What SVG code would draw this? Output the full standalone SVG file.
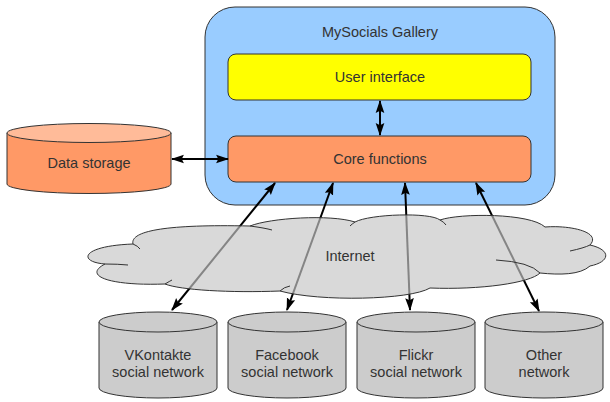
<svg xmlns="http://www.w3.org/2000/svg" width="610" height="402" viewBox="0 0 610 402">
<style>
text{font-family:"Liberation Sans",Arial,sans-serif;font-size:14.5px;fill:#333;text-anchor:middle}
.box{stroke:#333;stroke-width:1}
.conn{stroke:#000;stroke-width:2;fill:none;marker-start:url(#ah);marker-end:url(#ah)}
.cyl{fill:#cccccc;stroke:#333;stroke-width:1}
</style>
<defs>
<marker id="ah" viewBox="0 0 12 10" refX="11" refY="5" markerWidth="6.5" markerHeight="5.5" markerUnits="strokeWidth" orient="auto-start-reverse">
<path d="M0,1 L12,5 L0,9 L2,5 Z" fill="#000"/>
</marker>
</defs>
<g id="gallery">
<rect class="box" x="205" y="7" width="350" height="198" rx="30" fill="#99ccff"/>
<text x="380" y="37">MySocials Gallery</text>
</g>
<g id="ui">
<rect class="box" x="228" y="54" width="303" height="46" rx="8" fill="#ffff00"/>
<text x="380" y="82">User interface</text>
</g>
<g id="core">
<rect class="box" x="228" y="136" width="303" height="46" rx="8" fill="#ff9966"/>
<text x="380" y="164">Core functions</text>
</g>
<g id="storage">
<path class="box" d="M7,133 V184 A82,9.5 0 0 0 171,184 V133" fill="#ff9966"/>
<ellipse class="box" cx="89" cy="133" rx="82" ry="9.5" fill="#ffbb99"/>
<text x="89" y="168">Data storage</text>
</g>
<g id="connectors">
<line class="conn" x1="380" y1="101" x2="380" y2="135"/>
<line class="conn" x1="172" y1="159" x2="228" y2="159"/>
<line class="conn" x1="275" y1="183" x2="172" y2="310"/>
<line class="conn" x1="333" y1="183" x2="287" y2="310"/>
<line class="conn" x1="405" y1="183" x2="410" y2="310"/>
<line class="conn" x1="476" y1="183" x2="539" y2="311"/>
</g>
<g id="internet">
<path d="M165,284 C110,286 82,276 105,264 C78,262 80,246 133,244 C130,232 160,224 250,226 C270,218 330,214 355,222 C370,214 430,212 440,220 C460,213 530,213 545,227 C570,225 602,232 590,245 C612,250 610,262 590,266 C580,275 560,275 540,273 C530,283 480,290 430,288 C410,300 320,302 280,291 C230,293 180,290 165,284 Z" fill="#c6c6c6" fill-opacity="0.67" stroke="#333" stroke-width="1"/>
<path d="M133,244 Q138,246 140,249 M105,264 Q118,264 128,265 M250,226 Q265,228 272,230 M355,222 Q352,224 350,226 M440,220 Q444,222 446,225 M590,245 Q584,248 570,251 M540,273 Q530,262 496,260 M280,291 Q284,287 290,286 M165,284 Q170,281 172,280" fill="none" stroke="#333" stroke-width="1"/>
<text x="350" y="261">Internet</text>
</g>
<g id="vk">
<path class="cyl" d="M99,322 V388 A59,10 0 0 0 217,388 V322"/>
<ellipse class="cyl" cx="158" cy="322" rx="59" ry="10"/>
<text x="158" y="360">VKontakte</text>
<text x="158" y="377">social network</text>
</g>
<g id="fb">
<path class="cyl" d="M228,322 V388 A59,10 0 0 0 346,388 V322"/>
<ellipse class="cyl" cx="287" cy="322" rx="59" ry="10"/>
<text x="287" y="360">Facebook</text>
<text x="287" y="377">social network</text>
</g>
<g id="flickr">
<path class="cyl" d="M357,322 V388 A59,10 0 0 0 475,388 V322"/>
<ellipse class="cyl" cx="416" cy="322" rx="59" ry="10"/>
<text x="416" y="360">Flickr</text>
<text x="416" y="377">social network</text>
</g>
<g id="other">
<path class="cyl" d="M485,322 V388 A59,10 0 0 0 603,388 V322"/>
<ellipse class="cyl" cx="544" cy="322" rx="59" ry="10"/>
<text x="544" y="360">Other</text>
<text x="544" y="377">network</text>
</g>
</svg>
